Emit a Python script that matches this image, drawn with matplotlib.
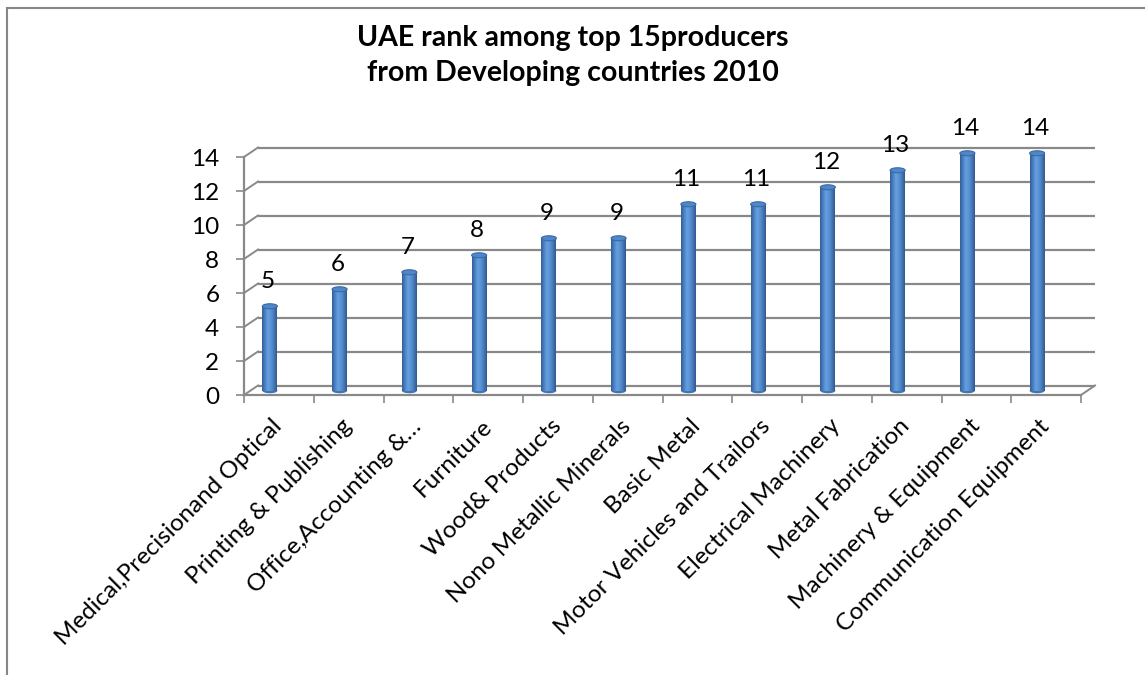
import numpy as np
import matplotlib
matplotlib.use("Agg")
import matplotlib.pyplot as plt
from matplotlib.patches import Ellipse, Rectangle
from matplotlib.colors import LinearSegmentedColormap

# ---------------- data ----------------
categories = [
    "Medical,Precisionand Optical",
    "Printing & Publishing",
    "Office,Accounting &…",
    "Furniture",
    "Wood& Products",
    "Nono Metallic Minerals",
    "Basic Metal",
    "Motor Vehicles and Trailors",
    "Electrical Machinery",
    "Metal Fabrication",
    "Machinery & Equipment",
    "Communication Equipment",
]
ranks = [5, 6, 7, 8, 9, 9, 11, 11, 12, 13, 14, 14]
y_ticks = [0, 2, 4, 6, 8, 10, 12, 14]
title_line1 = "UAE rank among top 15producers"
title_line2 = "from Developing countries 2010"

# ---------------- style ----------------
plt.rcParams["font.family"] = ["Lato", "DejaVu Sans"]
GRID = "#898989"
FS = 17.5
W, H = 1145, 675
fig = plt.figure(figsize=(W / 100, H / 100), dpi=100)

# front frame of the plot area (pixels)
left_px, right_px, base_px, top_px = 244, 1081, 395, 157
ax = fig.add_axes([left_px / W, (H - base_px) / H,
                   (right_px - left_px) / W, (base_px - top_px) / H])
n = len(categories)
ax.set_xlim(-0.5, n - 0.5)
ax.set_ylim(0, y_ticks[-1])
ax.set_facecolor("none")

sx = (right_px - left_px) / n            # px per category
sy = (base_px - top_px) / y_ticks[-1]     # px per unit
DX, DY = 14 / sx, 9.5 / sy                # depth offset (data units)
BO = -9 / sx                              # bar shift
BW = 15 / sx                              # bar width
EH = 5 / sy                               # ellipse height
BASE = 0.25
TOPOFF = 0.22

# back wall gridlines + left wall diagonals
for v in y_ticks:
    ax.plot([-0.5 + DX, n - 0.5 + DX], [v + DY, v + DY], color=GRID, lw=1.6,
            clip_on=False, zorder=1, solid_capstyle="butt")
    ax.plot([-0.5, -0.5 + DX], [v, v + DY], color=GRID, lw=1.4,
            clip_on=False, zorder=1)
# floor right edge
ax.plot([n - 0.5, n - 0.5 + DX], [0, DY], color=GRID, lw=1.4, clip_on=False, zorder=1)

# spines / ticks
for s in ["top", "right"]:
    ax.spines[s].set_visible(False)
for s in ["left", "bottom"]:
    ax.spines[s].set_color(GRID)
    ax.spines[s].set_linewidth(1.6)
ax.set_yticks(y_ticks)
ax.set_yticklabels([str(v) for v in y_ticks], fontsize=FS)
ax.set_xticks(np.arange(n + 1) - 0.5)
ax.set_xticklabels([])
ax.tick_params(axis="both", direction="out", length=5.8, width=1.2, color=GRID)
ax.tick_params(axis="y", pad=12)

# cylinder bars
cmap = LinearSegmentedColormap.from_list(
    "cyl", ["#315F98", "#4C80C2", "#66A0E0", "#5A92D4", "#4679B8", "#30598F"])
grad = np.linspace(0, 1, 64).reshape(1, -1)
for i, v in enumerate(ranks):
    xc = i + BO
    x0, x1 = xc - BW / 2, xc + BW / 2
    top = v + TOPOFF
    ax.add_patch(Ellipse((xc, BASE), BW, EH, facecolor="#4274B2",
                         edgecolor="none", zorder=3, clip_on=False))
    im = ax.imshow(grad, extent=[x0, x1, BASE, top], aspect="auto", cmap=cmap,
                   zorder=4, interpolation="bilinear")
    im.set_clip_on(False)
    ax.add_patch(Ellipse((xc, top), BW, EH, facecolor="#5087C9",
                         edgecolor="#3A69A6", lw=0.8, zorder=5, clip_on=False))
    ax.text(xc - 0.03, v + 1.28, str(v), ha="center", va="baseline",
            fontsize=FS, color="black", zorder=6)

ax.set_xlim(-0.5, n - 0.5)
ax.set_ylim(0, y_ticks[-1])

# category labels
for i, lab in enumerate(categories):
    ax.annotate(lab, xy=(i, 0), xycoords="data", xytext=(0, -20),
                textcoords="offset points", rotation=45, ha="right",
                va="center", rotation_mode="anchor", fontsize=FS,
                annotation_clip=False)

# title
fig.text(573 / W, 1 - 46 / H, title_line1, ha="center", va="baseline",
         fontsize=20.5, fontweight="bold")
fig.text(573 / W, 1 - 81 / H, title_line2, ha="center", va="baseline",
         fontsize=20.5, fontweight="bold")

# chart border (top and left visible)
fig.add_artist(Rectangle((7 / W, -0.1), 1.2, 1 - 8 / H + 0.1,
                         transform=fig.transFigure, fill=False,
                         edgecolor="#868686", lw=1.5))

fig.savefig("out.png", dpi=100)
